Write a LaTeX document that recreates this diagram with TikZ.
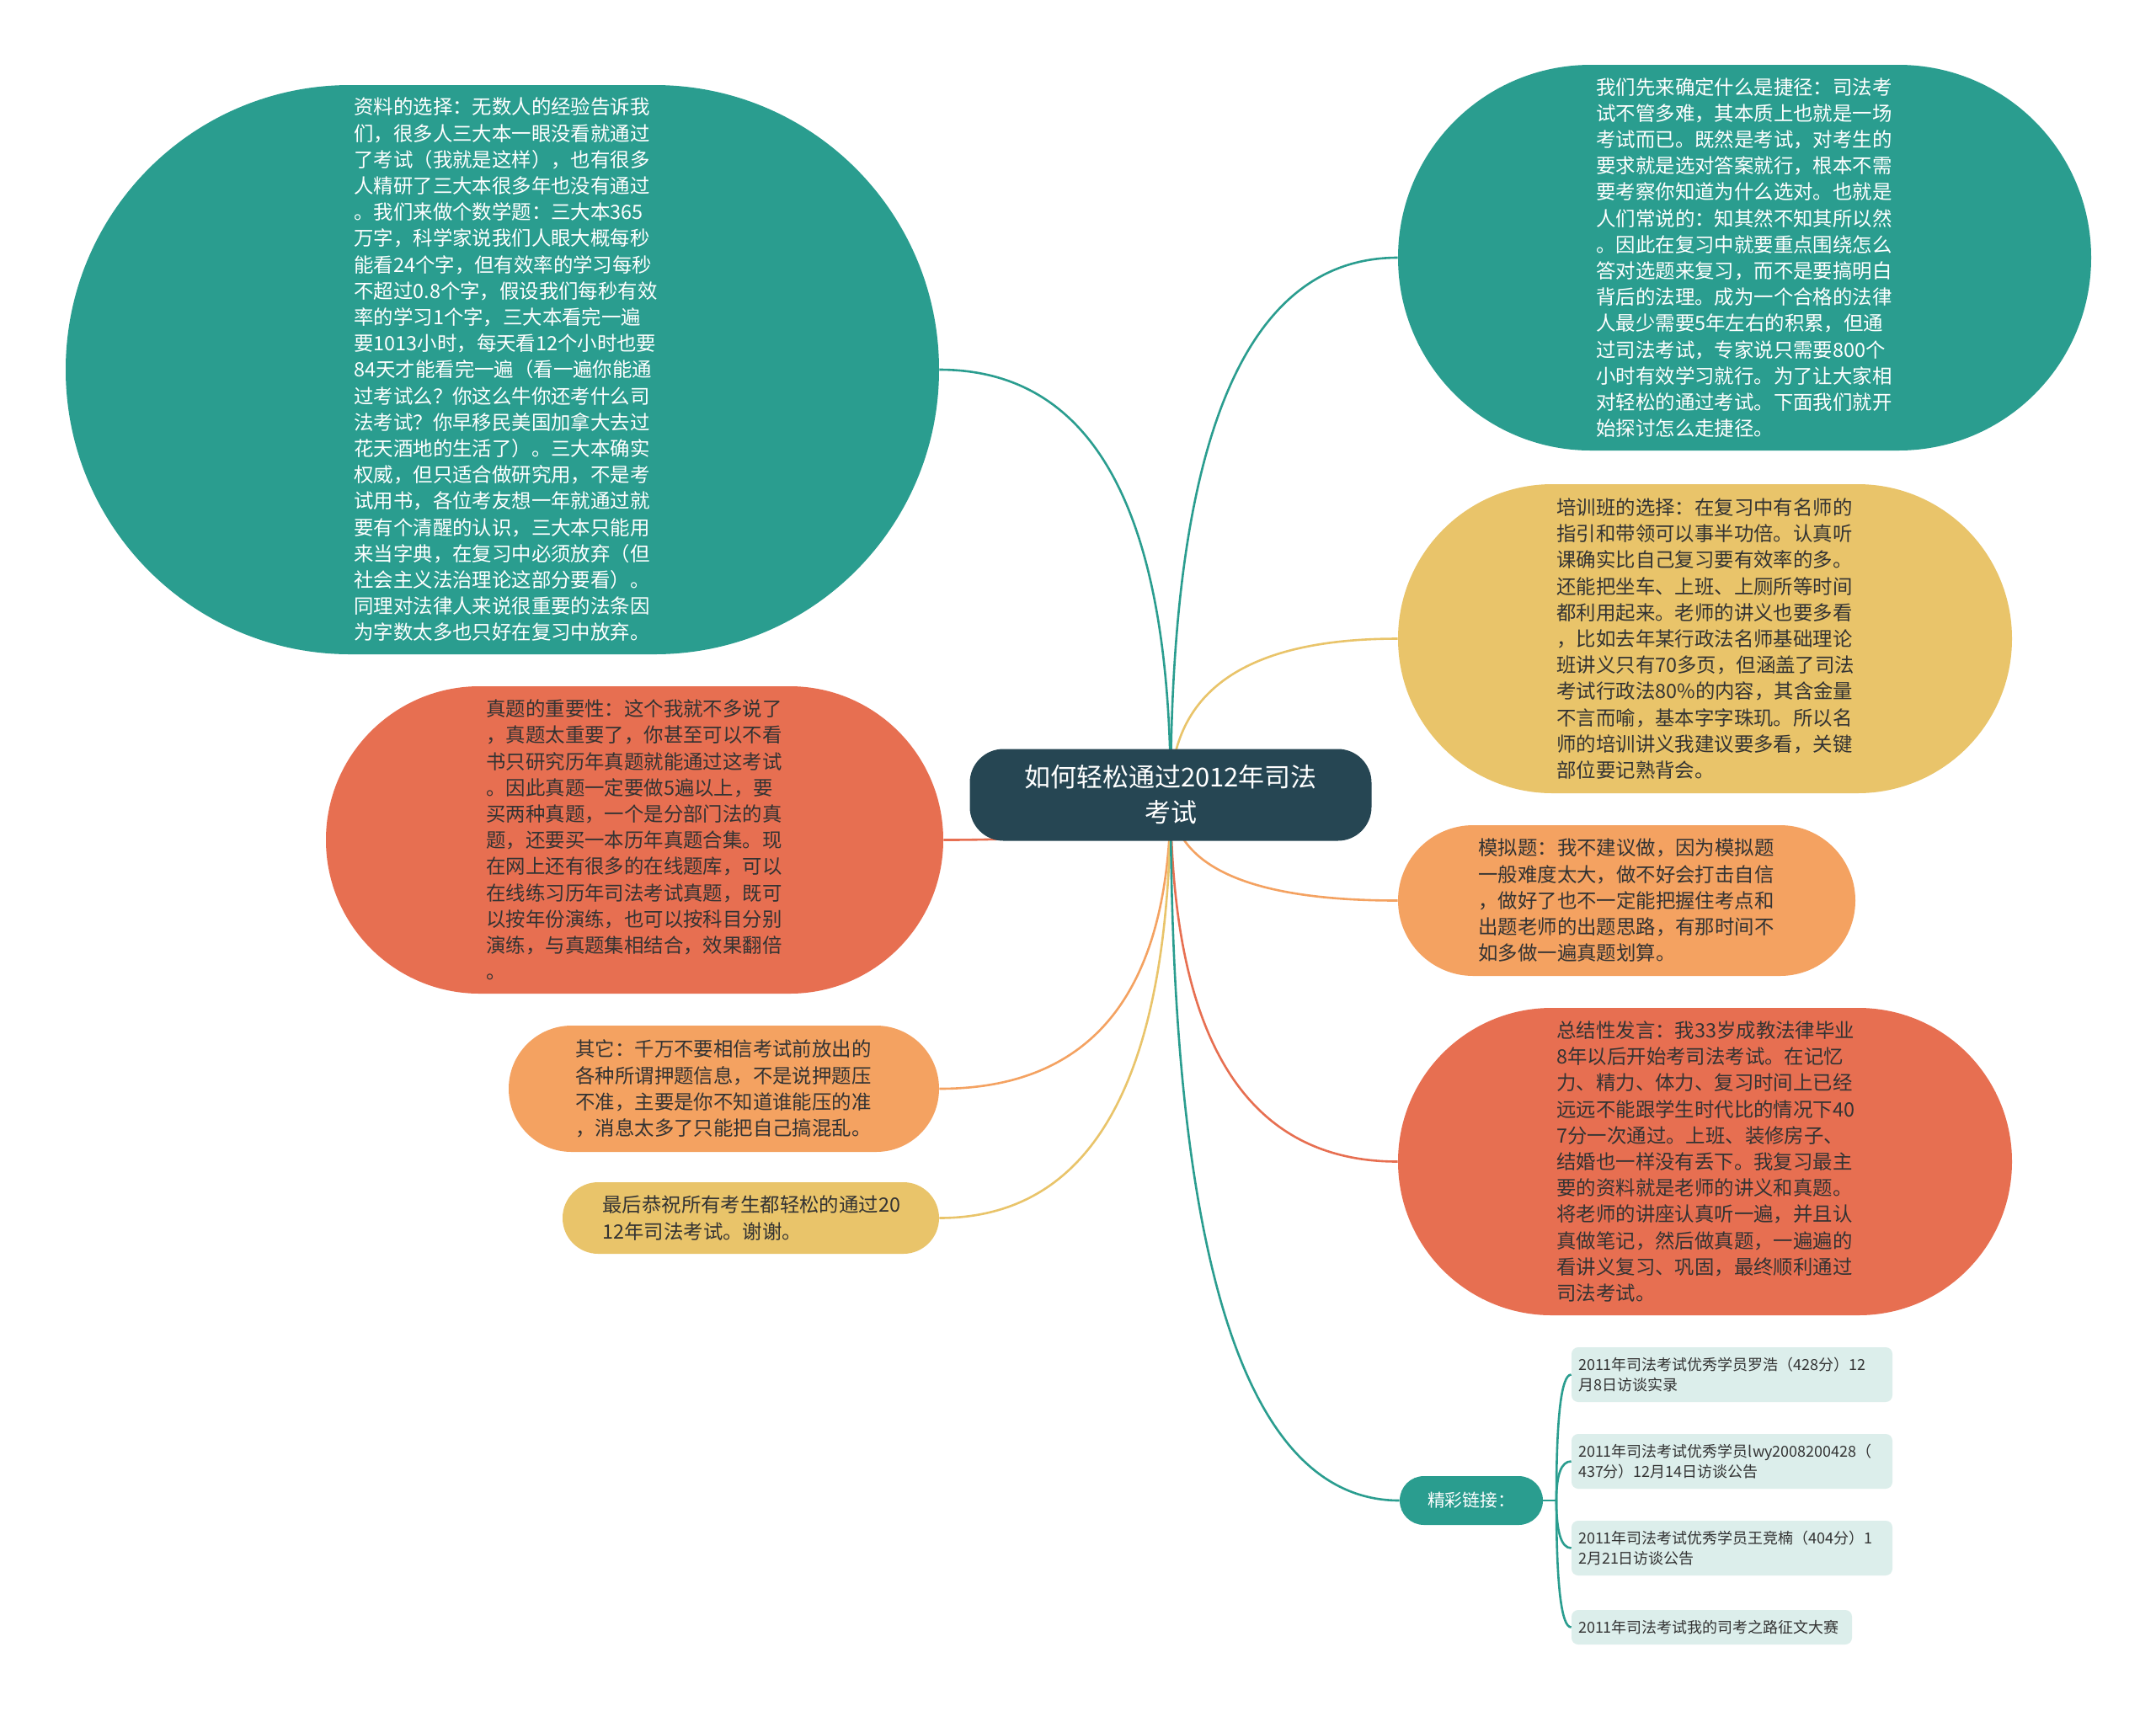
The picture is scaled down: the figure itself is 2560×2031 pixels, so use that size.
\documentclass[tikz,border=0pt]{standalone}
\usepackage{fontspec}
\newfontfamily\cjk{Noto Sans CJK SC}
\usetikzlibrary{calc}
\definecolor{cdark}{HTML}{264653}
\definecolor{cteal}{HTML}{2A9D8F}
\definecolor{cyel}{HTML}{E9C46A}
\definecolor{corg}{HTML}{F4A261}
\definecolor{cred}{HTML}{E76F51}
\definecolor{clink}{HTML}{DCEEEB}
\definecolor{ctext}{HTML}{333333}
\pgfdeclarelayer{canvas}
\pgfdeclarelayer{background}
\pgfsetlayers{canvas,background,main}
\newcommand\mmlink[3]{\draw[conn,#1] (c.center) .. controls ($(c.center)!0.667!(c.center|-#2.#3)$) and ($(#2.#3)!0.667!(c.center|-#2.#3)$) .. (#2.#3);}
\newcommand\brlink[1]{\draw[conn,cteal] (jn) .. controls ($(jn)!0.667!(jn|-#1.west)$) and ($(#1.west)!0.667!(jn|-#1.west)$) .. (#1.west);}
\tikzset{
  bub/.style={rectangle, inner sep=0pt, text width=176pt, align=left,
    font=\cjk\fontsize{11.7}{15.6}\selectfont},
  onlight/.style={text=ctext},
  ondark/.style={text=white},
  linkbox/.style={rectangle, fill=clink, rounded corners=4pt, inner xsep=4pt, inner ysep=0pt,
    align=left, text=ctext, font=\cjk\fontsize{9}{12.2}\selectfont},
  conn/.style={line width=1.3pt},
}
\begin{document}
\begin{tikzpicture}[x=0.5pt,y=-0.5pt]
\useasboundingbox (0,0) rectangle (2560,2031);
\begin{pgfonlayer}{canvas}
\fill[white] (0,0) rectangle (2560,2031);
\end{pgfonlayer}

% center
\node[rectangle, fill=cdark, rounded corners=20pt, minimum width=238.5pt, minimum height=54.5pt,
  inner sep=0pt, align=center, text=white, font=\cjk\fontsize{15.5}{21}\selectfont] (c) at (1390,944)
  {如何轻松通过2012年司法\\考试};

% top-left green
\node[bub, ondark, fill=cteal, rounded corners=168.9pt, minimum width=518.5pt, minimum height=338pt] (tl) at (596.5,439) {资料的选择：无数人的经验告诉我\\
们，很多人三大本一眼没看就通过\\
了考试（我就是这样），也有很多\\
人精研了三大本很多年也没有通过\\
。我们来做个数学题：三大本365\\
万字，科学家说我们人眼大概每秒\\
能看24个字，但有效率的学习每秒\\
不超过0.8个字，假设我们每秒有效\\
率的学习1个字，三大本看完一遍\\
要1013小时，每天看12个小时也要\\
84天才能看完一遍（看一遍你能通\\
过考试么？你这么牛你还考什么司\\
法考试？你早移民美国加拿大去过\\
花天酒地的生活了）。三大本确实\\
权威，但只适合做研究用，不是考\\
试用书，各位考友想一年就通过就\\
要有个清醒的认识，三大本只能用\\
来当字典，在复习中必须放弃（但\\
社会主义法治理论这部分要看）。\\
同理对法律人来说很重要的法条因\\
为字数太多也只好在复习中放弃。};

% top-right green
\node[bub, ondark, fill=cteal, rounded corners=114.4pt, minimum width=411.5pt, minimum height=229pt] (tr) at (2071.5,306) {我们先来确定什么是捷径：司法考\\
试不管多难，其本质上也就是一场\\
考试而已。既然是考试，对考生的\\
要求就是选对答案就行，根本不需\\
要考察你知道为什么选对。也就是\\
人们常说的：知其然不知其所以然\\
。因此在复习中就要重点围绕怎么\\
答对选题来复习，而不是要搞明白\\
背后的法理。成为一个合格的法律\\
人最少需要5年左右的积累，但通\\
过司法考试，专家说只需要800个\\
小时有效学习就行。为了让大家相\\
对轻松的通过考试。下面我们就开\\
始探讨怎么走捷径。};

% yellow right
\node[bub, onlight, fill=cyel, rounded corners=91.7pt, minimum width=364.5pt, minimum height=183.5pt] (yr) at (2024.5,758.5) {培训班的选择：在复习中有名师的\\
指引和带领可以事半功倍。认真听\\
课确实比自己复习要有效率的多。\\
还能把坐车、上班、上厕所等时间\\
都利用起来。老师的讲义也要多看\\
，比如去年某行政法名师基础理论\\
班讲义只有70多页，但涵盖了司法\\
考试行政法80\%的内容，其含金量\\
不言而喻，基本字字珠玑。所以名\\
师的培训讲义我建议要多看，关键\\
部位要记熟背会。};

% orange right
\node[bub, onlight, fill=corg, rounded corners=44.7pt, minimum width=271.5pt, minimum height=89.5pt] (or) at (1931.5,1069.5) {模拟题：我不建议做，因为模拟题\\
一般难度太大，做不好会打击自信\\
，做好了也不一定能把握住考点和\\
出题老师的出题思路，有那时间不\\
如多做一遍真题划算。};

% red right
\node[bub, onlight, fill=cred, rounded corners=91.2pt, minimum width=364.5pt, minimum height=182.5pt] (rr) at (2024.5,1379.5) {总结性发言：我33岁成教法律毕业\\
8年以后开始考司法考试。在记忆\\
力、精力、体力、复习时间上已经\\
远远不能跟学生时代比的情况下40\\
7分一次通过。上班、装修房子、\\
结婚也一样没有丢下。我复习最主\\
要的资料就是老师的讲义和真题。\\
将老师的讲座认真听一遍，并且认\\
真做笔记，然后做真题，一遍遍的\\
看讲义复习、巩固，最终顺利通过\\
司法考试。};

% red left
\node[bub, onlight, fill=cred, rounded corners=91.2pt, minimum width=366.5pt, minimum height=182.5pt] (rl) at (753.5,997.5) {真题的重要性：这个我就不多说了\\
，真题太重要了，你甚至可以不看\\
书只研究历年真题就能通过这考试\\
。因此真题一定要做5遍以上，要\\
买两种真题，一个是分部门法的真\\
题，还要买一本历年真题合集。现\\
在网上还有很多的在线题库，可以\\
在线练习历年司法考试真题，既可\\
以按年份演练，也可以按科目分别\\
演练，与真题集相结合，效果翻倍\\
。};

% orange left
\node[bub, onlight, fill=corg, rounded corners=37.4pt, minimum width=255.5pt, minimum height=75pt] (ol) at (859.5,1293) {其它：千万不要相信考试前放出的\\
各种所谓押题信息，不是说押题压\\
不准，主要是你不知道谁能压的准\\
，消息太多了只能把自己搞混乱。};

% yellow left
\node[bub, onlight, fill=cyel, rounded corners=21.2pt, minimum width=223.5pt, minimum height=42.5pt] (yl) at (891.5,1446.5) {最后恭祝所有考生都轻松的通过20\\
12年司法考试。谢谢。};

% links
\node[rectangle, fill=cteal, rounded corners=14.4pt, minimum width=85pt, minimum height=29pt, inner sep=0pt,
  text=white, font=\cjk\fontsize{10.4}{13}\selectfont] (lk) at (1747,1782) {精彩链接：};
\coordinate (jn) at (1848,1782);
\node[linkbox, text width=182.5pt, minimum height=32.5pt] (b1) at (2056.5,1632.5) {2011年司法考试优秀学员罗浩（428分）12\\月8日访谈实录};
\node[linkbox, text width=182.5pt, minimum height=32.5pt] (b2) at (2056.5,1735.5) {2011年司法考试优秀学员lwy2008200428（\\437分）12月14日访谈公告};
\node[linkbox, text width=182.5pt, minimum height=32.5pt] (b3) at (2056.5,1838.5) {2011年司法考试优秀学员王竞楠（404分）1\\2月21日访谈公告};
\node[linkbox, text width=158.5pt, minimum height=20.5pt] (b4) at (2032.5,1932.5) {2011年司法考试我的司考之路征文大赛};

\begin{pgfonlayer}{background}
\mmlink{cteal}{tl}{east}
\mmlink{cteal}{tr}{west}
\mmlink{cyel}{yr}{west}
\mmlink{corg}{or}{west}
\mmlink{cred}{rr}{west}
\mmlink{cred}{rl}{east}
\mmlink{corg}{ol}{east}
\mmlink{cyel}{yl}{east}
\mmlink{cteal}{lk}{west}
\draw[conn,cteal] (lk.east) -- (jn);
\brlink{b1}
\brlink{b2}
\brlink{b3}
\brlink{b4}
\end{pgfonlayer}
\end{tikzpicture}
\end{document}
